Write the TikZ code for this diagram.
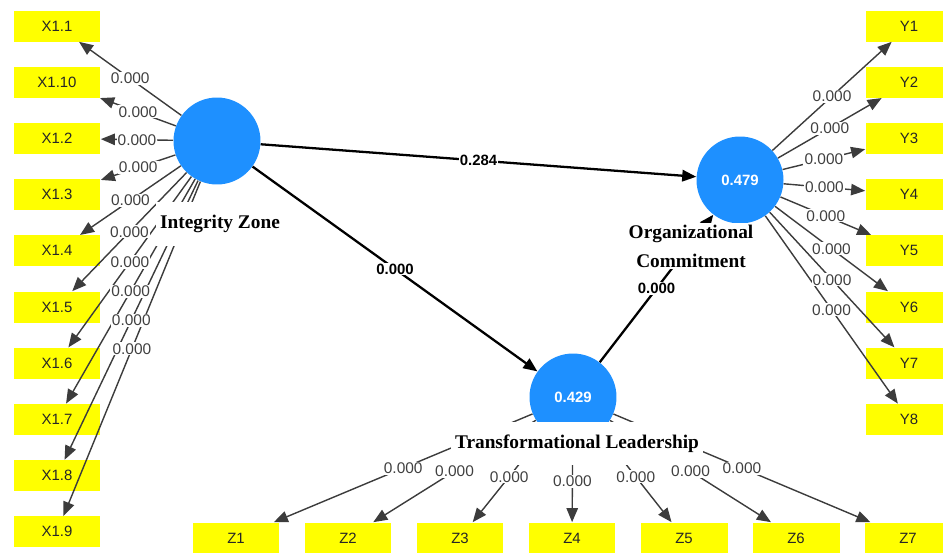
\documentclass[tikz,border=0pt]{standalone}
\usepackage{fontspec}
\setmainfont{Liberation Serif}
\setsansfont{Liberation Sans}
\usetikzlibrary{arrows.meta, positioning}
\definecolor{plsblue}{RGB}{30,144,255}
\definecolor{plsyellow}{RGB}{255,255,0}
\definecolor{loadgray}{RGB}{60,60,60}

\begin{document}
\begin{tikzpicture}[
        x=0.02cm, y=-0.02cm,
        lv/.style={circle, fill=plsblue, minimum size=1.74cm, inner sep=0pt, text=white, font=\sffamily\bfseries\fontsize{8.5}{10}\selectfont},
        indicator/.style={rectangle, fill=plsyellow, minimum width=1.74cm, minimum height=0.62cm, inner sep=0pt, text=black!85, font=\sffamily\fontsize{8.5}{10}\selectfont},
        loading/.style={-{Triangle[length=8pt, width=6.5pt]}, line width=0.8pt, loadgray},
        effect/.style={-{Triangle[length=8pt, width=6.5pt]}, line width=1.3pt, black},
        weight/.style={fill=white, inner sep=0.6pt, text=black!75, font=\sffamily\fontsize{8.8}{10}\selectfont},
        coef/.style={weight, text=black, font=\sffamily\bfseries\fontsize{8.5}{10}\selectfont},
        lvname/.style={fill=white, align=center, inner xsep=0.08cm, inner ysep=0.26cm, font=\bfseries\fontsize{11}{16.5}\selectfont}
    ]
        \useasboundingbox (0,0) rectangle (943,552);

        % Latent variables
        \node[lv] (iz) at (217,141) {};
        \node[lv] (oc) at (740,180) {0.479};
        \node[lv] (tl) at (573,397) {0.429};

        % Indicators
        \foreach \ind [count=\i from 0] in {1.1,1.10,1.2,1.3,1.4,1.5,1.6,1.7,1.8,1.9}
            \node[indicator] (x\i) at (57,26+56.2*\i) {X\ind};
        \foreach \i in {1,...,8}
            \node[indicator] (y\i) at (909,56.2*\i-30.2) {Y\i};
        \foreach \i in {1,...,7}
            \node[indicator] (z\i) at (124+112*\i,538) {Z\i};

        % Outer model
        \foreach \i in {0,...,9}
            \draw[loading] (iz) -- coordinate[midway] (mx\i) (x\i);
        \foreach \i in {1,...,8}
            \draw[loading] (oc) -- coordinate[midway] (my\i) (y\i);
        \foreach \i in {1,...,7}
            \draw[loading] (tl) -- coordinate[midway] (mz\i) (z\i);

        % Inner model
        \draw[effect] (iz) -- coordinate[midway] (m1) (oc);
        \draw[effect] (iz) -- coordinate[midway] (m2) (tl);
        \draw[effect] (tl) -- coordinate[midway] (m3) (oc);

        % p-values
        \foreach \i in {0,...,9}
            \node[weight] (wx\i) at (mx\i) {0.000};
        \foreach \i in {1,...,8}
            \node[weight] (wy\i) at (my\i) {0.000};
        \foreach \i in {1,...,7}
            \node[weight] (wz\i) at (mz\i) {0.000};
        \node[coef] (c1) at (m1) {0.284};
        \node[coef] (c2) at (m2) {0.000};
        \node[coef] (c3) at (m3) {0.000};

        % Construct names
        \node[lvname] (izname) at (220,224) {Integrity Zone};
        \node[lvname, inner ysep=0.04cm] (ocname) at (691,246) {Organizational\\Commitment};
        \node[lvname] (tlname) at (577,443.5) {Transformational Leadership};
    \end{tikzpicture}
\end{document}
